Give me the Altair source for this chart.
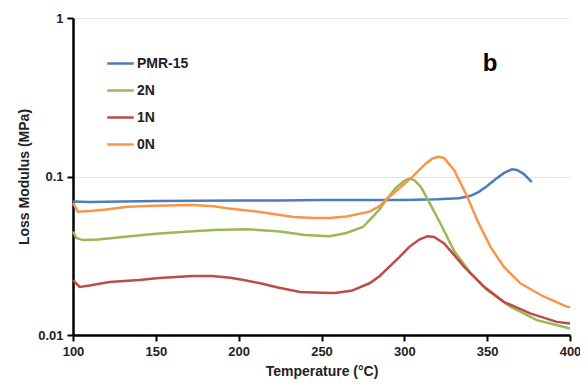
import altair as alt
import pandas as pd

series_names = ["PMR-15", "2N", "1N", "0N"]
series_colors = ["#4A7EBB", "#98B954", "#BE4B48", "#F79646"]

pmr_t = [100, 110, 130, 150, 175, 200, 225, 250, 275, 300, 320, 333, 340, 345, 350, 355, 360, 365, 368, 372, 377]
pmr_v = [0.0695, 0.069, 0.0695, 0.0700, 0.0703, 0.0705, 0.0705, 0.071, 0.071, 0.0712, 0.0718, 0.073,
         0.0755, 0.080, 0.087, 0.096, 0.105, 0.111, 0.110, 0.104, 0.092]

n2_t = [100, 102, 106, 115, 130, 150, 170, 185, 205, 225, 240, 255, 265, 275, 280, 285, 289, 295, 300, 303,
        306, 310, 315, 322, 330, 340, 350, 364, 380, 390, 400]
n2_v = [0.045, 0.041, 0.0397, 0.040, 0.0415, 0.0435, 0.045, 0.046, 0.0465, 0.045, 0.0428, 0.042, 0.044, 0.048,
        0.0545, 0.062, 0.071, 0.085, 0.094, 0.097, 0.095, 0.086, 0.069, 0.050, 0.034, 0.0245, 0.0192, 0.0151,
        0.0124, 0.0117, 0.011]

n1_t = [100, 104, 110, 122, 140, 152, 172, 184, 195, 203, 215, 223, 237, 250, 258, 268, 279, 285, 291, 297,
        303, 309, 314, 318, 324, 330, 336, 348, 360, 376, 392, 400]
n1_v = [0.0222, 0.0201, 0.0205, 0.0216, 0.0222, 0.0229, 0.0236, 0.0236, 0.023, 0.0222, 0.021, 0.020, 0.0187,
        0.0185, 0.0184, 0.019, 0.0212, 0.0235, 0.027, 0.031, 0.036, 0.040, 0.042, 0.0415, 0.0378, 0.032,
        0.027, 0.0202, 0.0162, 0.0137, 0.0121, 0.0118]

n0_t = [100, 103, 110, 120, 133, 150, 172, 185, 193, 213, 233, 245, 255, 265, 279, 285, 291, 298, 305, 313,
        317, 320.5, 324, 330, 338, 344, 352, 360, 370, 384, 398, 400]
n0_v = [0.068, 0.060, 0.0605, 0.062, 0.0645, 0.0655, 0.066, 0.065, 0.063, 0.0597, 0.0555, 0.0547, 0.0547,
        0.056, 0.060, 0.065, 0.0746, 0.086, 0.0997, 0.121, 0.130, 0.133, 0.131, 0.110, 0.0746, 0.053, 0.036,
        0.027, 0.0212, 0.0175, 0.0151, 0.0150]

x_ticks = [100, 150, 200, 250, 300, 350, 400]
y_ticks = [0.01, 0.1, 1]

rows = []
for name, ts, vs in zip(series_names, [pmr_t, n2_t, n1_t, n0_t], [pmr_v, n2_v, n1_v, n0_v]):
    for i, (t, v) in enumerate(zip(ts, vs)):
        rows.append({"series": name, "temp": t, "val": v, "i": i})
df = pd.DataFrame(rows)

FONT = "Liberation Sans"

lines = alt.Chart(df).mark_line(strokeWidth=2.5).encode(
    x=alt.X("temp:Q",
            scale=alt.Scale(domain=[100, 400], nice=False),
            axis=alt.Axis(values=x_ticks, title="Temperature (°C)", grid=False, labelFlush=False,
                          titlePadding=6, labelPadding=4)),
    y=alt.Y("val:Q",
            scale=alt.Scale(type="log", domain=[0.01, 1], nice=False),
            axis=alt.Axis(values=y_ticks, format=".2~f", title="Loss Modulus (MPa)", labelFlush=False,
                          grid=True, gridColor="#e4e4e4", titlePadding=6, labelPadding=4)),
    color=alt.Color("series:N",
                    scale=alt.Scale(domain=series_names, range=series_colors),
                    sort=series_names,
                    legend=alt.Legend(title=None, orient="none", legendX=33, legendY=31,
                                      symbolType="stroke", symbolSize=700, symbolStrokeWidth=2.5,
                                      labelFontSize=14, labelFontWeight="bold", labelFont=FONT,
                                      labelColor="#222", rowPadding=5, labelOffset=2)),
    order="i:Q",
)

label = alt.Chart(pd.DataFrame({"temp": [351.7], "val": [0.51], "t": ["b"]})).mark_text(
    fontSize=24, fontWeight="bold", font=FONT, color="#000", baseline="middle"
).encode(x="temp:Q", y=alt.Y("val:Q", scale=alt.Scale(type="log")), text="t:N")

chart = alt.layer(lines, label).properties(
    width=497, height=317,
    autosize=alt.AutoSizeParams(type="none"),
    padding={"left": 65, "top": 10, "right": 10, "bottom": 45},
).configure_view(stroke=None).configure_axis(
    domainColor="#000", domainWidth=2.5, tickColor="#000", tickWidth=2, tickSize=6,
    labelFont=FONT, labelFontSize=13, labelFontWeight="bold", labelColor="#222",
    titleFont=FONT, titleFontSize=14, titleFontWeight="bold", titleColor="#222",
)

chart.save("out.html", embed_options={"renderer": "svg", "actions": False})
